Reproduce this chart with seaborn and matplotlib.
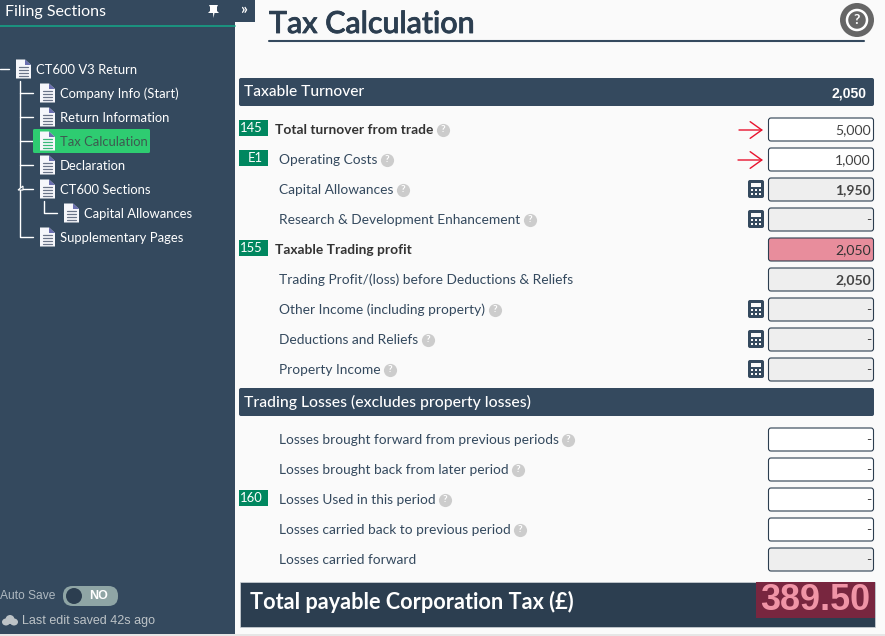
import pandas as pd
import seaborn as sns
import matplotlib.pyplot as plt
import matplotlib.patheffects as pe
from matplotlib.patches import FancyBboxPatch, Rectangle, Polygon, Circle, Ellipse

sns.set_theme(style='white')
plt.rcParams['font.family'] = ['Lato', 'DejaVu Sans']
plt.rcParams['patch.force_edgecolor'] = False

NAVY = '#34495e'
DARK = '#2c3e50'
GREEN = '#00875f'
LABEL = '#34495e'

# px to pt at dpi 100
def px(size):
    return size * 0.72

# Form rows: y, label, badge, bold, value, style, calculator icon
rows = pd.DataFrame([
    (129, 'Total turnover from trade', '145', True, '5,000', 'input', False),
    (159, 'Operating Costs', 'E1', False, '1,000', 'input', False),
    (189, 'Capital Allowances', '', False, '1,950', 'calc', True),
    (219, 'Research & Development Enhancement', '', False, '-', 'calc', True),
    (249, 'Taxable Trading profit', '155', True, '2,050', 'pink', False),
    (279, 'Trading Profit/(loss) before Deductions & Reliefs', '', False, '2,050', 'calc', False),
    (309, 'Other Income (including property)', '', False, '-', 'calc', True),
    (339, 'Deductions and Reliefs', '', False, '-', 'calc', True),
    (369, 'Property Income', '', False, '-', 'calc', True),
    (439, 'Losses brought forward from previous periods', '', False, '-', 'input', False),
    (469, 'Losses brought back from later period', '', False, '-', 'input', False),
    (499, 'Losses Used in this period', '160', False, '-', 'input', False),
    (529, 'Losses carried back to previous period', '', False, '-', 'input', False),
    (559, 'Losses carried forward', '', False, '-', 'calc', False),
], columns=['y', 'label', 'badge', 'bold', 'value', 'style', 'icon'])

# Sidebar tree: y, indent of the document icon, label
tree = [
    (69, 16, 'CT600 V3 Return'),
    (93, 40, 'Company Info (Start)'),
    (117, 40, 'Return Information'),
    (141, 40, 'Tax Calculation'),
    (165, 40, 'Declaration'),
    (189, 40, 'CT600 Sections'),
    (213, 64, 'Capital Allowances'),
    (237, 40, 'Supplementary Pages'),
]

fig = plt.figure(figsize=(8.85, 6.36), dpi=100, facecolor='#fafafa')
ax = fig.add_axes([0, 0, 1, 1])
ax.set_xlim(0, 885)
ax.set_ylim(636, 0)
ax.axis('off')


def box(x0, y0, x1, y1, fc, ec='none', lw=0, r=2, z=2):
    ax.add_patch(FancyBboxPatch((x0 + r, y0 + r), x1 - x0 - 2 * r, y1 - y0 - 2 * r,
                                boxstyle=f'round,pad={r}', fc=fc, ec=ec, lw=lw, zorder=z))


def doc_icon(x, y, hi=False):
    # page with folded corner and text lines
    ax.add_patch(Polygon([(x, y - 9.5), (x + 9, y - 9.5), (x + 15, y - 4), (x + 15, y + 9.5), (x, y + 9.5)],
                         fc='#f6f7fb', zorder=4))
    ax.add_patch(Polygon([(x + 9, y - 9.5), (x + 15, y - 4), (x + 9, y - 4)], fc='#6a6fb0', zorder=5))
    for dy in (-2, 1, 4, 7):
        ax.plot([x + 3, x + 12], [y + dy, y + dy], color='#39b97a' if hi else '#6a7488', lw=0.9, zorder=5)


def calc_icon(x, y):
    box(x, y - 9, x + 16, y + 9, NAVY, r=2, z=3)
    ax.add_patch(Rectangle((x + 3, y - 6), 10, 4, fc='#fafafa', zorder=4))
    for gx in (3, 7, 11):
        for gy in (0, 4):
            ax.add_patch(Rectangle((x + gx, y + gy), 2, 2, fc='#fafafa', zorder=4))


# sidebar
ax.add_patch(Rectangle((0, 0), 235, 636, fc=NAVY, zorder=1))
ax.add_patch(Rectangle((235, 0), 20, 22, fc=NAVY, zorder=1))
ax.add_patch(Rectangle((0, 633.5), 885, 2.5, fc='#e6e6e6', zorder=6))
ax.plot([0, 235], [26, 26], color='#16a085', lw=1.2, zorder=2)
ax.text(5, 12, 'Filing Sections', color='white', fontsize=px(16), va='center', zorder=3)
ax.add_patch(Polygon([(209, 5), (218, 5), (217, 7), (217, 11), (219, 13), (214.5, 13), (213.5, 18),
                      (213, 13), (208, 13), (210, 11), (210, 7)], fc='white', zorder=3))
ax.text(244, 10, '»', color='white', fontsize=px(15), fontweight='bold', ha='center', va='center', zorder=3)

# tree connectors
ax.plot([0, 9], [69, 69], color='white', lw=1, zorder=2)
ax.plot([20, 20, 33], [81, 237, 237], color='white', lw=1, zorder=2)
for y in (93, 117, 141, 165, 189):
    ax.plot([20, 33], [y, y], color='white', lw=1, zorder=2)
ax.plot([44, 44, 57], [201, 213, 213], color='white', lw=1, zorder=2)
ax.add_patch(Polygon([(18, 190), (23, 186), (23, 190)], fc=NAVY, ec='white', lw=0.8, zorder=3))

box(33, 129, 150, 153, '#2ecc71', r=1.5)
for y, x, name in tree:
    hi = name == 'Tax Calculation'
    doc_icon(x, y, hi)
    ax.text(x + 20, y + 1, name, color='#3d5a50' if hi else 'white', fontsize=px(13), va='center', zorder=5)

# auto save
ax.text(0, 596, 'Auto Save', family='Liberation Sans', color='#aeb8c0', fontsize=px(12), va='center', zorder=3)
box(63, 586, 118, 606, '#8fa5a5', r=9.5, z=3)
ax.add_patch(Circle((74, 596), 8, fc=DARK, zorder=4))
ax.text(99, 596, 'NO', family='Liberation Sans', color='white', fontweight='bold', fontsize=px(12.5),
        ha='center', va='center', zorder=4)
for cx, cy, w, h in [(6, 622, 8, 7), (10, 619.5, 9, 9), (14, 622, 8, 7)]:
    ax.add_patch(Ellipse((cx, cy), w, h, fc='#bdc3c7', zorder=3))
ax.text(22, 621, 'Last edit saved 42s ago', family='Liberation Sans', color='#bdc3c7', fontsize=px(12.5),
        va='center', zorder=3)

# title and help button
title = ax.text(269, 24, 'Tax Calculation', color=DARK, fontsize=px(30.4), fontweight='medium', va='center', zorder=3)
title.set_path_effects([pe.withStroke(linewidth=0.6, foreground=DARK)])
ax.plot([269, 864], [41, 41], color=NAVY, lw=1.5, zorder=2)
ax.add_patch(Circle((857, 20), 17, fc='#666666', zorder=3))
ax.add_patch(Circle((857, 20), 10, fc='none', ec='white', lw=1.8, zorder=4))
ax.text(857, 20.5, '?', color='white', fontweight='bold', fontsize=px(14), ha='center', va='center', zorder=5)

# section headers
box(239, 78, 874, 106, NAVY)
ax.text(244, 92, 'Taxable Turnover', color='white', fontsize=px(15.5), fontweight='medium', va='center', zorder=3)
ax.text(867, 93, '2,050', family='Liberation Sans', color='white', fontweight='bold', fontsize=px(14),
        ha='right', va='center', zorder=3)
box(239, 388, 874, 416, NAVY)
ax.text(244, 402, 'Trading Losses (excludes property losses)', color='white', fontsize=px(15.7),
        fontweight='medium', va='center', zorder=3)

# form rows
fills = {'input': 'white', 'calc': '#eeeeee', 'pink': '#e88d9c'}
renderer = fig.canvas.get_renderer()
help_marks = []
for row in rows.itertuples():
    y = row.y
    if row.badge:
        ax.add_patch(Rectangle((239, y - 9), 29, 16, fc=GREEN, zorder=2))
        ax.text(263, y - 1, row.badge, color='white', fontsize=px(13), ha='right', va='center', zorder=3)
    label = ax.text(275 if row.bold else 279, y + 1, row.label,
                    color='#333333' if row.bold else LABEL,
                    fontweight='bold' if row.bold else 'normal',
                    fontsize=px(13.75), va='center', zorder=3)
    if row.label not in ('Taxable Trading profit', 'Trading Profit/(loss) before Deductions & Reliefs',
                         'Losses carried forward'):
        help_marks.append((ax.transData.inverted().transform(label.get_window_extent(renderer))[1][0] + 9.5, y + 0.5))
    box(768.5, y - 11, 873.5, y + 12, fills[row.style], ec=DARK, lw=0.8, r=2.5)
    ax.text(871, y + 1, row.value, color='#333333' if row.value == '2,050' and row.style == 'pink' else '#444444',
            fontweight='bold' if row.value in ('1,950', '2,050') and row.style == 'calc' else 'normal',
            fontsize=px(14), ha='right', va='center', zorder=3)
    if row.icon:
        calc_icon(748, y)

# help icons next to the labels
help_df = pd.DataFrame(help_marks, columns=['x', 'y'])
sns.scatterplot(data=help_df, x='x', y='y', color='#cccccc', s=90, linewidth=0, ax=ax, zorder=3, legend=False)
for hx, hy in help_marks:
    ax.text(hx, hy, '?', color='white', fontweight='bold', fontsize=px(10), ha='center', va='center', zorder=4)
ax.set_xlim(0, 885)
ax.set_ylim(636, 0)
ax.axis('off')

# red arrows
for x0, y in [(739, 130), (738, 160)]:
    ax.annotate('', xy=(763, y), xytext=(x0, y), zorder=4,
                arrowprops=dict(arrowstyle='->,head_length=0.7,head_width=0.5', color='#e8122d', lw=1,
                                shrinkA=0, shrinkB=0))

# total bar
ax.add_patch(Rectangle((240, 582), 635, 45, fc=DARK, ec='#cfd4d8', lw=0.5, zorder=2))
ax.add_patch(Rectangle((756, 582), 119, 36, fc='#78263f', zorder=3))
ax.text(250, 602, 'Total payable Corporation Tax (£)', color='white', fontweight='bold', fontsize=px(21.7),
        va='center', zorder=4)
ax.text(870, 600.5, '389.50', family='Liberation Sans', color='#f094a6', fontweight='bold', fontsize=px(36),
        ha='right', va='center', zorder=4)

fig.savefig('out.png', dpi=100, facecolor=fig.get_facecolor())
